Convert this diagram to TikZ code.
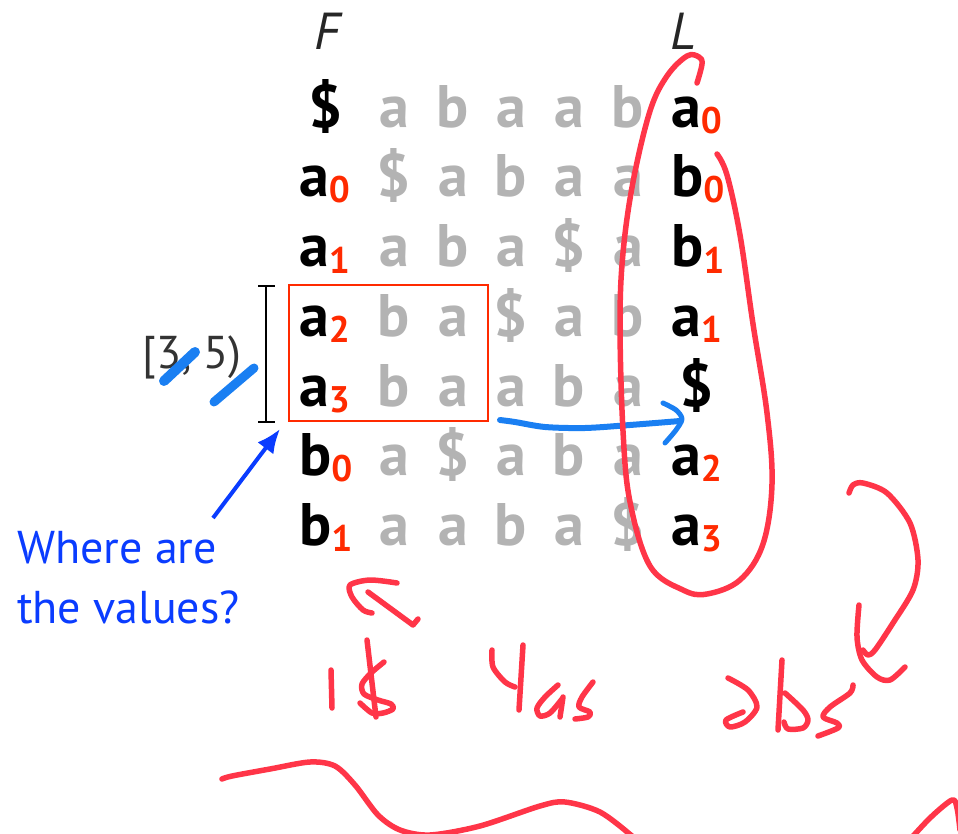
\documentclass[tikz,border=0pt]{standalone}
\usepackage{fontspec}
\setmainfont{PT Sans}
\usetikzlibrary{arrows.meta}
\definecolor{gry}{HTML}{B3B3B3}
\definecolor{sub}{HTML}{FF2A00}
\definecolor{pen}{HTML}{FF3548}
\definecolor{hl}{HTML}{1A7FF2}
\definecolor{blue}{HTML}{0A3CFF}
\newcommand{\ix}[1]{\raisebox{-6pt}{\fontsize{37}{37}\selectfont\color{sub}#1}}

\begin{document}
\begin{tikzpicture}[x=1pt,y=-1pt,
 ch/.style={inner sep=0,font=\fontsize{60}{60}\selectfont\bfseries},
 gr/.style={ch,text=gry,anchor=base},
 lf/.style={ch,anchor=base west},
 md/.style={ch,anchor=base},
 hd/.style={inner sep=0,anchor=base,font=\fontsize{52}{52}\selectfont\itshape,text=black!85},
 hand/.style={pen,line width=5.5pt,line cap=round,line join=round}]
\useasboundingbox (0,0) rectangle (958,834);\clip (0,0) rectangle (958,834);
\node[hd] (F) at (327,50){F};\node[hd] (L) at (683,50){L};
\node[md] (f0) at (326,128){\$};\node[gr] (g01) at (394,128){a};\node[gr] (g02) at (453,128){b};\node[gr] (g03) at (511,128){a};\node[gr] (g04) at (569,128){a};\node[gr] (g05) at (628,128){b};\node[lf] (l0) at (671,128){a\ix0};
\node[lf] (f1) at (299,197){a\ix0};\node[gr] (g11) at (394,197){\$};\node[gr] (g12) at (453,197){a};\node[gr] (g13) at (511,197){b};\node[gr] (g14) at (569,197){a};\node[gr] (g15) at (628,197){a};\node[lf] (l1) at (671,197){b\ix0};
\node[lf] (f2) at (299,267){a\ix1};\node[gr] (g21) at (394,267){a};\node[gr] (g22) at (453,267){b};\node[gr] (g23) at (511,267){a};\node[gr] (g24) at (569,267){\$};\node[gr] (g25) at (628,267){a};\node[lf] (l2) at (671,267){b\ix1};
\node[lf] (f3) at (299,336){a\ix2};\node[gr] (g31) at (394,336){b};\node[gr] (g32) at (453,336){a};\node[gr] (g33) at (511,336){\$};\node[gr] (g34) at (569,336){a};\node[gr] (g35) at (628,336){b};\node[lf] (l3) at (671,336){a\ix1};
\node[lf] (f4) at (299,406){a\ix3};\node[gr] (g41) at (394,406){b};\node[gr] (g42) at (453,406){a};\node[gr] (g43) at (511,406){a};\node[gr] (g44) at (569,406){b};\node[gr] (g45) at (628,406){a};\node[md] (l4) at (697,406){\$};
\node[lf] (f5) at (299,475){b\ix0};\node[gr] (g51) at (394,475){a};\node[gr] (g52) at (453,475){\$};\node[gr] (g53) at (511,475){a};\node[gr] (g54) at (569,475){b};\node[gr] (g55) at (628,475){a};\node[lf] (l5) at (671,475){a\ix2};
\node[lf] (f6) at (299,545){b\ix1};\node[gr] (g61) at (394,545){a};\node[gr] (g62) at (453,545){a};\node[gr] (g63) at (511,545){b};\node[gr] (g64) at (569,545){a};\node[gr] (g65) at (628,545){\$};\node[lf] (l6) at (671,545){a\ix3};
\draw[sub,line width=1.8pt] (289,285) rectangle (488,421);
\draw[line width=1.6pt] (258,286)--(275,286) (266,286)--(266,422) (258,422)--(275,422);
\node[inner sep=0,anchor=base west,text=black!80,font=\fontsize{46}{46}\selectfont] (rng) at (142,368){[3, 5)};
\draw[hl,line width=10pt,line cap=round] (164,381)--(195,352);\draw[hl,line width=9pt,line cap=round] (214,402)--(254,368);
\node[inner sep=0,anchor=base west,text=blue,font=\fontsize{46}{46}\selectfont] (q1) at (17,563){Where are};
\node[inner sep=0,anchor=base west,text=blue,font=\fontsize{46}{46}\selectfont] (q2) at (17,623){the values?};
\coordinate (tail) at (213,518);\coordinate (tip) at (280,429);
\draw[blue,line width=4pt,-{Latex[length=24pt,width=20pt]}] (tail)--(tip);
\draw[hl,line width=6pt,line cap=round,line join=round] plot[smooth] coordinates {(500,420)(515,422)(545,427)(585,428)(630,425)(680,421)};
\draw[hl,line width=5pt,line cap=round,line join=round] plot[smooth] coordinates {(663,403)(676,410)(682,419)(676,430)(665,443)};
\draw[hand] plot[smooth,tension=0.6] coordinates {(697,83)(702,64)(699,57)(687,56)(667,76)(650,111)(633,182)(623,253)(620,324)(623,431)(630,502)(650,566)(683,590)(707,594)(740,580)(763,544)(772,484)(767,413)(753,324)(740,235)(727,175)(717,154)};
\draw[hand] plot[smooth] coordinates {(849,493)(853,485)(863,483)(887,493)(910,523)(918,560)(913,590)(893,623)(875,650)(868,655)(863,650)};
\draw[hand] plot[smooth] coordinates {(859,605)(857,637)(862,660)(877,677)(890,680)(905,667)};
\draw[hand] plot[smooth] coordinates {(397,583)(370,580)(350,585)(352,597)(363,610)(372,613)};
\draw[hand] (368,592)--(413,625)--(418,619);
\draw[hand] (331,670)--(332,708) (367,640)--(376,717);
\draw[hand] plot[smooth] coordinates {(384,662)(371,673)(362,684)(364,694)(378,700)(391,704)(393,709)(383,713)(372,713)(360,703)};
\draw[hand] plot[smooth] coordinates {(492,650)(493,667)(505,682)(515,687)};\draw[hand] (523,645)--(519,710);
\draw[hand] plot[smooth] coordinates {(558,685)(545,697)(537,708)(540,716)(550,713)(562,699)};\draw[hand] (563,697)--(560,717);
\draw[hand] plot[smooth] coordinates {(593,682)(582,697)(579,707)(590,712)(588,717)(575,719)};
\draw[hand] plot[smooth] coordinates {(728,678)(748,690)(757,707)(745,722)(730,727)(726,720)(743,712)};
\draw[hand] (782,660)--(778,730);\draw[hand] plot[smooth] coordinates {(785,693)(803,710)(808,720)(803,728)(788,729)(784,722)};
\draw[hand] plot[smooth] coordinates {(853,685)(850,693)(830,707)(823,717)(837,723)(838,728)(818,736)};
\draw[hand] plot[smooth] coordinates {(222,779)(232,776)(270,769)(310,762)(335,766)(355,785)(378,815)(400,830)(430,835)(480,826)(540,806)(565,802)(600,812)(632,836)(640,845)};
\draw[hand] plot[smooth] coordinates {(905,845)(930,818)(952,800)(957,808)(960,830)};
\end{tikzpicture}
\end{document}
